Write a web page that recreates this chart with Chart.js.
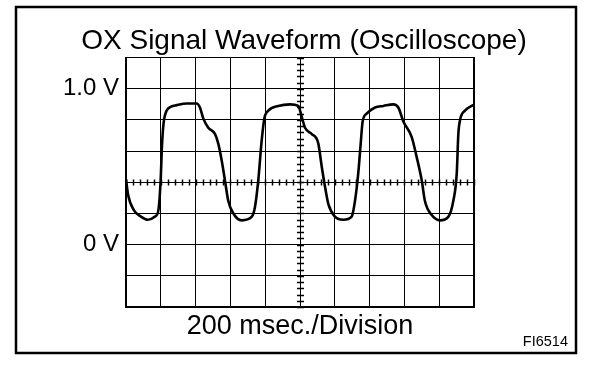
<!DOCTYPE html>
<html>
<head>
<meta charset="utf-8">
<script src="https://cdn.jsdelivr.net/npm/chart.js@4.4.1/dist/chart.umd.min.js"></script>
<style>
  html, body { margin: 0; padding: 0; background: #fff; }
  #wrap { width: 608px; height: 370px; }
</style>
</head>
<body>
<div id="wrap"><canvas id="c" width="608" height="370"></canvas></div>
<script>
// Chart text
const chartTitle = 'OX Signal Waveform (Oscilloscope)';
const xAxisLabel = '200 msec./Division';
const figureCode = 'FI6514';
const yTickLabels = { '1': '1.0 V', '0': '0 V' };

// Grid divisions: 10 x 200 ms, 8 x 0.2 V
const xGrid = [0, 200, 400, 600, 800, 1000, 1200, 1400, 1600, 1800, 2000];
const yGrid = [-0.4, -0.2, 0, 0.2, 0.4, 0.6, 0.8, 1.0, 1.2];

// Waveform samples: time in ms, voltage in V
const timeMs = [0, 12, 46, 86, 126, 167, 186, 199, 207, 216, 234, 259, 291, 349, 406, 425, 444, 473, 511, 530, 550, 569, 588, 617, 665, 722, 741, 760, 780, 795, 818, 875, 943, 990, 1010, 1029, 1067, 1105, 1125, 1144, 1163, 1201, 1249, 1297, 1316, 1335, 1349, 1360, 1383, 1431, 1479, 1536, 1565, 1594, 1642, 1671, 1700, 1718, 1757, 1805, 1852, 1881, 1901, 1910, 1920, 1948, 1987, 2000];
const voltage = [0.42, 0.32, 0.22, 0.18, 0.16, 0.18, 0.22, 0.41, 0.64, 0.78, 0.86, 0.885, 0.895, 0.906, 0.906, 0.88, 0.81, 0.75, 0.71, 0.65, 0.54, 0.41, 0.28, 0.2, 0.156, 0.178, 0.24, 0.41, 0.67, 0.81, 0.86, 0.89, 0.9, 0.89, 0.82, 0.75, 0.71, 0.65, 0.5, 0.37, 0.26, 0.18, 0.16, 0.18, 0.28, 0.46, 0.65, 0.79, 0.84, 0.88, 0.89, 0.9, 0.88, 0.79, 0.69, 0.56, 0.41, 0.28, 0.19, 0.156, 0.178, 0.28, 0.46, 0.71, 0.8, 0.86, 0.89, 0.895];

const xMin = xGrid[0], xMax = xGrid[xGrid.length - 1];
const yMin = yGrid[0], yMax = yGrid[yGrid.length - 1];

const frameAndScope = {
  id: 'frameAndScope',
  beforeDraw(chart) {
    const ctx = chart.ctx;
    ctx.save();
    ctx.fillStyle = '#fff';
    ctx.fillRect(0, 0, chart.width, chart.height);
    ctx.strokeStyle = '#000';
    ctx.lineWidth = 2.5;
    ctx.strokeRect(16, 7, 560, 346);
    ctx.restore();
  },
  beforeDatasetsDraw(chart) {
    const ctx = chart.ctx;
    const xs = chart.scales.x, ys = chart.scales.y;
    const cx = Math.round(xs.getPixelForValue((xMin + xMax) / 2)) + 0.5;
    const cy = Math.round(ys.getPixelForValue((yMin + yMax) / 2)) + 0.5;
    const xStep = (xGrid[1] - xGrid[0]) / 5;
    const yStep = (yGrid[1] - yGrid[0]) / 5;
    ctx.save();
    ctx.strokeStyle = '#000';
    ctx.lineWidth = 1.5;
    ctx.beginPath();
    for (let t = xMin; t <= xMax + 1e-6; t += xStep) {
      const px = Math.round(xs.getPixelForValue(t)) + 0.5;
      ctx.moveTo(px, cy - 3);
      ctx.lineTo(px, cy + 3);
    }
    for (let v = yMin; v <= yMax + 1e-6; v += yStep) {
      const py = Math.round(ys.getPixelForValue(v)) + 0.5;
      ctx.moveTo(cx - 3.5, py);
      ctx.lineTo(cx + 3.5, py);
    }
    ctx.stroke();
    ctx.fillStyle = '#000';
    ctx.font = '14.5px "Liberation Sans", Arial, sans-serif';
    ctx.textAlign = 'right';
    ctx.textBaseline = 'middle';
    ctx.fillText(figureCode, 568, 342);
    ctx.restore();
  }
};

new Chart(document.getElementById('c'), {
  type: 'line',
  data: {
    datasets: [{
      data: timeMs.map((t, i) => ({ x: t, y: voltage[i] })),
      borderColor: '#000',
      borderWidth: 2.6,
      pointRadius: 0,
      cubicInterpolationMode: 'monotone',
      fill: false
    }]
  },
  options: {
    responsive: false,
    animation: false,
    layout: { padding: 0 },
    plugins: {
      legend: { display: false },
      tooltip: { enabled: false },
      title: {
        display: true,
        text: chartTitle,
        color: '#000',
        font: { family: '"Liberation Sans", Arial, sans-serif', size: 28, weight: 'normal', lineHeight: 1.2 },
        padding: { top: 24, bottom: 0 }
      }
    },
    scales: {
      x: {
        type: 'linear',
        min: xMin, max: xMax,
        ticks: { display: false },
        afterBuildTicks(scale) { scale.ticks = xGrid.map(v => ({ value: v })); },
        grid: { color: '#000', lineWidth: 1, drawTicks: false },
        border: { display: true, color: '#000', width: 2 },
        title: {
          display: true,
          text: xAxisLabel,
          color: '#000',
          font: { family: '"Liberation Sans", Arial, sans-serif', size: 27, lineHeight: 1.2 },
          padding: { top: 0, bottom: 27 }
        },
        afterFit(scale) { scale.height = 63; }
      },
      y: {
        type: 'linear',
        min: yMin, max: yMax,
        afterBuildTicks(scale) { scale.ticks = yGrid.map(v => ({ value: v })); },
        ticks: {
          autoSkip: false,
          color: '#000',
          padding: 7,
          font: { family: '"Liberation Sans", Arial, sans-serif', size: 24 },
          callback(v) {
            if (Math.abs(v - 1) < 1e-6) return yTickLabels['1'];
            if (Math.abs(v) < 1e-6) return yTickLabels['0'];
            return '';
          }
        },
        grid: { color: '#000', lineWidth: 1, drawTicks: false },
        border: { display: true, color: '#000', width: 2 },
        afterFit(scale) { scale.width = 126; }
      },
      yRight: {
        type: 'linear',
        position: 'right',
        min: yMin, max: yMax,
        ticks: { display: false },
        grid: { display: false, drawTicks: false },
        border: { display: true, color: '#000', width: 2 },
        afterFit(scale) { scale.width = 134; }
      }
    }
  },
  plugins: [frameAndScope]
});
</script>
</body>
</html>
